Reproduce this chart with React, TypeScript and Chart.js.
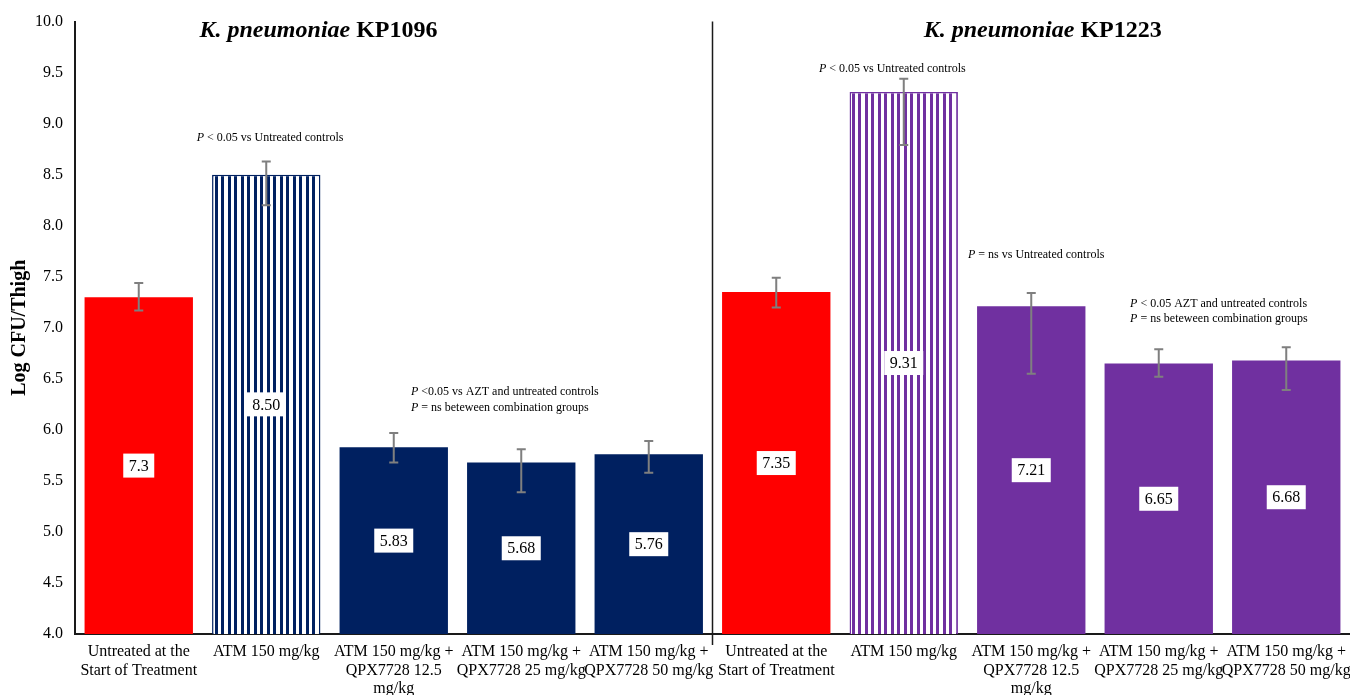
import React, { useEffect, useRef } from "react";
import { Chart, registerables } from "chart.js";

Chart.register(...registerables);

const SERIF = '"Liberation Serif", "Times New Roman", Times, serif';
const AXIS_COLOR = "#1a1a1a";
const ERR_COLOR = "#7f7f7f";
const RED = "#ff0000";
const NAVY = "#002060";
const PURPLE = "#7030a0";

// Treatment groups, first strain then second strain
const categories: string[][] = [
  ["Untreated at the", "Start of Treatment"],
  ["ATM 150 mg/kg"],
  ["ATM 150 mg/kg +", "QPX7728 12.5", "mg/kg"],
  ["ATM 150 mg/kg +", "QPX7728 25 mg/kg"],
  ["ATM 150 mg/kg +", "QPX7728 50 mg/kg"],
  ["Untreated at the", "Start of Treatment"],
  ["ATM 150 mg/kg"],
  ["ATM 150 mg/kg +", "QPX7728 12.5", "mg/kg"],
  ["ATM 150 mg/kg +", "QPX7728 25 mg/kg"],
  ["ATM 150 mg/kg +", "QPX7728 50 mg/kg"],
];

// Mean log10 CFU per thigh
const meanLog = [7.3, 8.5, 5.83, 5.68, 5.76, 7.35, 9.31, 7.21, 6.65, 6.68];
// Decimals shown in each value box
const labelDigits = [1, 2, 2, 2, 2, 2, 2, 2, 2, 2];
// Error bar ends (log CFU)
const errUpper = [7.44, 8.63, 5.97, 5.81, 5.89, 7.49, 9.44, 7.34, 6.79, 6.81];
const errLower = [7.17, 8.2, 5.68, 5.39, 5.58, 7.2, 8.79, 6.55, 6.52, 6.39];

// Fill style per group
const fillKind = ["solid", "stripe", "solid", "solid", "solid", "solid", "stripe", "solid", "solid", "solid"];
const fillColor = [RED, NAVY, NAVY, NAVY, NAVY, RED, PURPLE, PURPLE, PURPLE, PURPLE];

const yMin = 4;
const yMax = 10;
const yStep = 0.5;

const strainTitles = ["KP1096", "KP1223"];

type Seg = { t: string; s: string };
type Note = { lines: Seg[][]; at: number; y: number[]; align: "left" | "center" };

// Statistical notes, anchored in category/value space
const notes: Note[] = [
  {
    lines: [[{ t: "P", s: "italic" }, { t: " < 0.05 vs Untreated controls", s: "" }]],
    at: 1.03,
    y: [8.86],
    align: "center",
  },
  {
    lines: [
      [{ t: "P", s: "italic" }, { t: " <0.05 vs AZT and untreated controls", s: "" }],
      [{ t: "P", s: "italic" }, { t: " = ns beteween combination groups", s: "" }],
    ],
    at: 2.135,
    y: [6.37, 6.22],
    align: "left",
  },
  {
    lines: [[{ t: "P", s: "italic" }, { t: " < 0.05 vs Untreated controls", s: "" }]],
    at: 5.91,
    y: [9.54],
    align: "center",
  },
  {
    lines: [[{ t: "P", s: "italic" }, { t: " = ns vs Untreated controls", s: "" }]],
    at: 6.504,
    y: [7.71],
    align: "left",
  },
  {
    lines: [
      [{ t: "P", s: "italic" }, { t: " < 0.05 AZT and untreated controls", s: "" }],
      [{ t: "P", s: "italic" }, { t: " = ns beteween combination groups", s: "" }],
    ],
    at: 7.775,
    y: [7.234, 7.09],
    align: "left",
  },
];

const titleAt = [1.41, 7.09];
const titleY = 9.91;

function stripePattern(color: string): CanvasPattern | string {
  const c = document.createElement("canvas");
  c.width = 13;
  c.height = 4;
  const g = c.getContext("2d");
  if (!g) return color;
  g.fillStyle = "#ffffff";
  g.fillRect(0, 0, 13, 4);
  g.fillStyle = color;
  g.fillRect(0, 0, 3, 4);
  g.fillRect(7, 0, 3, 4);
  const p = g.createPattern(c, "repeat");
  return p || color;
}

function drawRich(
  ctx: CanvasRenderingContext2D,
  segs: Seg[],
  x: number,
  y: number,
  align: "left" | "center",
  size: number,
  weight = ""
) {
  const widths = segs.map((s) => {
    ctx.font = `${s.s} ${weight} ${size}px ${SERIF}`;
    return ctx.measureText(s.t).width;
  });
  const total = widths.reduce((a, b) => a + b, 0);
  let cx = align === "center" ? x - total / 2 : x;
  ctx.textAlign = "left";
  ctx.textBaseline = "middle";
  segs.forEach((s, i) => {
    ctx.font = `${s.s} ${weight} ${size}px ${SERIF}`;
    ctx.fillText(s.t, cx, y);
    cx += widths[i];
  });
}

const overlay = {
  id: "overlay",
  afterDatasetsDraw(chart: any) {
    const { ctx, chartArea } = chart;
    const x = chart.scales.x;
    const y = chart.scales.y;
    const meta = chart.getDatasetMeta(0);
    ctx.save();

    // divider between the two strains
    const xd = x.getPixelForValue(4.5);
    ctx.strokeStyle = AXIS_COLOR;
    ctx.lineWidth = 1.5;
    ctx.beginPath();
    ctx.moveTo(xd, chartArea.top);
    ctx.lineTo(xd, chartArea.bottom + 11);
    ctx.stroke();

    // error bars
    ctx.strokeStyle = ERR_COLOR;
    ctx.lineWidth = 2;
    meta.data.forEach((bar: any, i: number) => {
      const cx = bar.x;
      const yt = y.getPixelForValue(errUpper[i]);
      const yb = y.getPixelForValue(errLower[i]);
      ctx.beginPath();
      ctx.moveTo(cx, yt);
      ctx.lineTo(cx, yb);
      ctx.moveTo(cx - 4.5, yt);
      ctx.lineTo(cx + 4.5, yt);
      ctx.moveTo(cx - 4.5, yb);
      ctx.lineTo(cx + 4.5, yb);
      ctx.stroke();
    });

    // value boxes at the middle of the visible bar
    const floorPx = y.getPixelForValue(yMin);
    meta.data.forEach((bar: any, i: number) => {
      const text = meanLog[i].toFixed(labelDigits[i]);
      const cy = (y.getPixelForValue(meanLog[i]) + floorPx) / 2;
      ctx.font = `16px ${SERIF}`;
      const w = ctx.measureText(text).width + 11;
      const h = 24;
      ctx.fillStyle = "#ffffff";
      ctx.fillRect(bar.x - w / 2, cy - h / 2, w, h);
      ctx.fillStyle = "#000000";
      ctx.textAlign = "center";
      ctx.textBaseline = "middle";
      ctx.fillText(text, bar.x, cy + 1);
    });

    // statistical notes
    ctx.fillStyle = "#000000";
    notes.forEach((n) => {
      const px = x.getPixelForValue(n.at);
      n.lines.forEach((line, li) => {
        drawRich(ctx, line, px, y.getPixelForValue(n.y[li]), n.align, 12);
      });
    });

    // strain titles
    strainTitles.forEach((t, i) => {
      drawRich(
        ctx,
        [
          { t: "K. pneumoniae", s: "italic" },
          { t: " " + t, s: "" },
        ],
        x.getPixelForValue(titleAt[i]),
        y.getPixelForValue(titleY),
        "center",
        24,
        "bold"
      );
    });

    ctx.restore();
  },
};

export default function App() {
  const ref = useRef<HTMLCanvasElement | null>(null);

  useEffect(() => {
    const canvas = ref.current;
    if (!canvas) return;
    const backgrounds = fillKind.map((k, i) =>
      k === "stripe" ? stripePattern(fillColor[i]) : fillColor[i]
    );
    const chart = new Chart(canvas, {
      type: "bar",
      data: {
        labels: categories,
        datasets: [
          {
            data: meanLog,
            backgroundColor: backgrounds as any,
            borderColor: fillColor,
            borderWidth: fillKind.map((k) => (k === "stripe" ? 1.5 : 0)),
            borderSkipped: "bottom",
            categoryPercentage: 1,
            barPercentage: 0.85,
          },
        ],
      },
      options: {
        responsive: false,
        animation: false,
        layout: { padding: { top: 18, right: 0, bottom: 0, left: 0 } },
        plugins: {
          legend: { display: false },
          tooltip: { enabled: false },
        },
        scales: {
          x: {
            offset: true,
            grid: { display: false, drawTicks: false },
            border: { display: true, color: AXIS_COLOR, width: 2 },
            ticks: {
              autoSkip: false,
              maxRotation: 0,
              minRotation: 0,
              padding: 9,
              color: "#000000",
              font: { family: SERIF, size: 16, lineHeight: 1.15 },
            },
            afterFit(scale: any) {
              scale.height = 61;
              scale.paddingLeft = 0;
              scale.paddingRight = 0;
            },
          },
          y: {
            min: yMin,
            max: yMax,
            grid: { display: false, drawTicks: false },
            border: { display: true, color: AXIS_COLOR, width: 2 },
            ticks: {
              stepSize: yStep,
              padding: 12,
              color: "#000000",
              font: { family: SERIF, size: 16 },
              callback: (v: any) => Number(v).toFixed(1),
            },
            title: {
              display: true,
              text: "Log CFU/Thigh",
              color: "#000000",
              font: { family: SERIF, size: 20, weight: "bold" },
              padding: { top: 8, bottom: 0 },
            },
            afterFit(scale: any) {
              scale.width = 75;
            },
          },
        },
      },
      plugins: [overlay],
    });
    return () => chart.destroy();
  }, []);

  return (
    <div style={{ position: "absolute", left: 0, top: 0, width: 1350, height: 695, background: "#ffffff" }}>
      <canvas ref={ref} width={1350} height={695} style={{ display: "block" }} />
    </div>
  );
}
